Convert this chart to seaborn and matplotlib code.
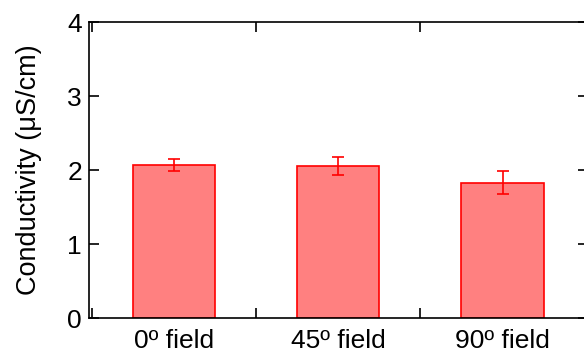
import matplotlib
matplotlib.use("Agg")
import matplotlib.pyplot as plt
import seaborn as sns
import pandas as pd
from matplotlib.ticker import FixedLocator

categories = ["0º field", "45º field", "90º field"]
conductivity = [2.07, 2.05, 1.83]
errors = [0.085, 0.12, 0.16]
yticks = [0, 1, 2, 3, 4]

sns.set_theme(style="white")
plt.rcParams['font.family'] = ['Liberation Sans', 'DejaVu Sans']
plt.rcParams['text.color'] = 'black'
plt.rcParams['axes.labelcolor'] = 'black'
plt.rcParams['xtick.color'] = 'black'
plt.rcParams['ytick.color'] = 'black'

df = pd.DataFrame({"condition": categories, "value": conductivity})

fig = plt.figure(figsize=(5.84, 3.53), dpi=100)
ax = fig.add_axes([89/584, 1-318/353, (587.5-89)/584, (318-22)/353])

sns.barplot(data=df, x="condition", y="value", ax=ax, errorbar=None,
            width=0.5, color=(1, 0.5, 0.5), edgecolor="#ff0000", linewidth=1.2,
            saturation=1)
ax.errorbar(range(len(categories)), conductivity, yerr=errors, fmt="none",
            ecolor="#ff0000", elinewidth=1.2, capsize=4, capthick=1.2)

ax.set_xlim(-0.517, 2.517)
ax.set_ylim(0, 4)
ax.set_yticks(yticks)
ax.set_xlabel("")
ax.set_ylabel("Conductivity (μS/cm)", fontsize=19.5, labelpad=18, color="black")

for s in ax.spines.values():
    s.set_visible(True)
    s.set_color("black")
    s.set_linewidth(1.2)

ax.xaxis.set_minor_locator(FixedLocator([-0.5, 0.5, 1.5, 2.5]))
ax.tick_params(axis="x", which="major", length=0, labelsize=19, pad=8,
               labelcolor="black")
ax.tick_params(axis="x", which="minor", direction="in", length=7, width=1.2,
               top=True, bottom=True, color="black")
ax.tick_params(axis="y", which="major", direction="in", length=7, width=1.2,
               left=True, right=True, labelsize=19, pad=5, color="black",
               labelcolor="black")

fig.savefig("out.png", dpi=100)
